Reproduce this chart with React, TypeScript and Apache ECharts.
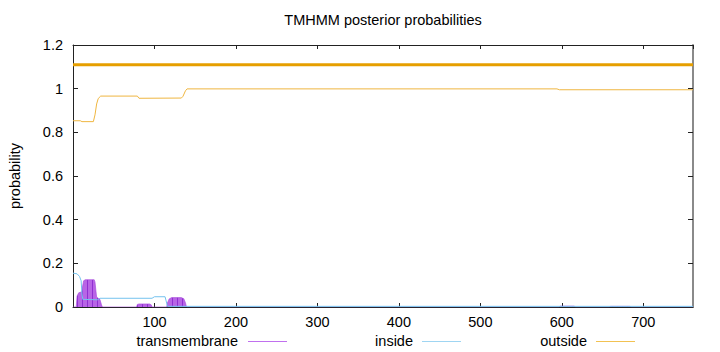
import React, { useEffect, useRef } from "react";
import * as echarts from "echarts";

const seqLength = 761;
const xTicks = [0, 100, 200, 300, 400, 500, 600, 700];
const yTicks = [0, 0.2, 0.4, 0.6, 0.8, 1, 1.2];
const legendNames = ["transmembrane", "inside", "outside"];

// [residue, probability]
const transmembrane: [number, number][] = [
  [0, 0], [4, 0], [5, 0.05], [7, 0.065], [11, 0.07], [12, 0.1], [13, 0.12], [15, 0.125],
  [26, 0.125], [27, 0.115], [28, 0.08], [29, 0.045], [33, 0.035], [35, 0.01], [36, 0],
  [78, 0], [79, 0.012], [81, 0.014], [94, 0.014], [96, 0.01], [97, 0],
  [115, 0], [116, 0.02], [118, 0.037], [121, 0.043], [133, 0.043], [136, 0.038], [138, 0.02], [139, 0.005], [140, 0],
  [596, 0], [598, 0.004], [615, 0.004], [617, 0], [658, 0], [660, 0.003], [683, 0.003], [685, 0], [761, 0],
];

const inside: [number, number][] = [
  [0, 0.155], [5, 0.152], [8, 0.14], [10, 0.12], [11, 0.06], [12, 0.035], [30, 0.033], [33, 0.04],
  [97, 0.04], [100, 0.047], [113, 0.047], [116, 0.003], [761, 0.003],
];

const outside: [number, number][] = [
  [0, 0.853], [9, 0.853], [11, 0.849], [25, 0.849], [27, 0.88], [29, 0.93], [31, 0.955], [34, 0.966],
  [79, 0.966], [81, 0.956], [133, 0.957], [135, 0.965], [138, 0.99], [140, 0.999],
  [594, 0.999], [597, 0.995], [761, 0.995],
];

const topology: [number, number][] = [[0, 1.11], [761, 1.11]];

const FONT = "'Liberation Sans', Arial, sans-serif";
const FS = 14.5;

export default function App() {
  const ref = useRef<HTMLDivElement>(null);
  useEffect(() => {
    if (!ref.current) return;
    document.body.style.margin = "0";
    const chart = echarts.init(ref.current, undefined, { renderer: "svg" });

    let tmFill: any = "#b052e2";
    try {
      const c = document.createElement("canvas");
      c.width = 5;
      c.height = 4;
      const ctx = c.getContext("2d");
      if (ctx) {
        ctx.fillStyle = "#b865e6";
        ctx.fillRect(0, 0, 5, 4);
        ctx.fillStyle = "#9030d2";
        ctx.fillRect(2, 0, 1, 4);
        tmFill = { image: c, repeat: "repeat" };
      }
    } catch (e) {}

    const axisColor = "#222";
    const xBase = {
      type: "value",
      min: 0,
      max: seqLength,
      interval: 100,
      splitLine: { show: false },
      axisTick: { inside: true, length: 4, lineStyle: { color: axisColor } },
    };
    const yBase = {
      type: "value",
      min: 0,
      max: 1.2,
      interval: 0.2,
      splitLine: { show: false },
      axisTick: { inside: true, length: 5, lineStyle: { color: axisColor } },
    };

    const legendY = 341;
    const legendTextX = [238, 413, 587];
    const legendLineX = [248, 422, 596];
    const legendColors = ["#c070ee", "#9fd5f2", "#f2c252"];
    const legendGraphics: any[] = [];
    legendNames.forEach((n, i) => {
      legendGraphics.push({
        type: "text",
        x: legendTextX[i],
        y: legendY,
        style: { text: n, align: "right", verticalAlign: "middle", font: `${FS}px ${FONT}`, fill: "#000" },
      });
      legendGraphics.push({
        type: "line",
        shape: { x1: legendLineX[i], y1: legendY + 0.5, x2: legendLineX[i] + 39, y2: legendY + 0.5 },
        style: { stroke: legendColors[i], lineWidth: 1 },
      });
    });

    chart.setOption({
      animation: false,
      textStyle: { fontFamily: FONT },
      grid: { left: 73, top: 45, width: 620, height: 262, containLabel: false },
      xAxis: [
        {
          ...xBase,
          position: "bottom",
          axisLine: { show: true, onZero: false, lineStyle: { color: axisColor, width: 1 } },
          axisLabel: {
            margin: 7,
            color: "#000",
            fontSize: FS,
            fontFamily: FONT,
            showMinLabel: false,
            showMaxLabel: false,
            formatter: (v: number) => (xTicks.includes(v) && v !== 0 ? String(v) : ""),
          },
        },
        {
          ...xBase,
          position: "top",
          axisLine: { show: true, onZero: false, lineStyle: { color: axisColor, width: 1 } },
          axisLabel: { show: false },
        },
      ],
      yAxis: [
        {
          ...yBase,
          position: "left",
          axisLine: { show: true, onZero: false, lineStyle: { color: axisColor, width: 1 } },
          axisLabel: {
            margin: 10,
            color: "#000",
            fontSize: FS,
            fontFamily: FONT,
            formatter: (v: number) => {
              const t = yTicks.find((k) => Math.abs(k - v) < 1e-6);
              return t === undefined ? "" : String(t);
            },
          },
        },
        {
          ...yBase,
          position: "right",
          axisLine: { show: true, onZero: false, lineStyle: { color: "#8a8a8a", width: 2 } },
          axisLabel: { show: false },
        },
      ],
      graphic: [
        {
          type: "text",
          x: 383,
          y: 20,
          style: {
            text: "TMHMM posterior probabilities",
            align: "center",
            verticalAlign: "middle",
            font: `${FS}px ${FONT}`,
            fill: "#000",
          },
        },
        {
          type: "text",
          x: 15,
          y: 176,
          rotation: Math.PI / 2,
          style: { text: "probability", align: "center", verticalAlign: "middle", font: `${FS}px ${FONT}`, fill: "#000" },
        },
        ...legendGraphics,
      ],
      series: [
        {
          name: "transmembrane",
          type: "line",
          data: transmembrane,
          showSymbol: false,
          lineStyle: { color: "#a445dc", width: 0.6 },
          areaStyle: { color: tmFill, opacity: 1 },
          z: 2,
        },
        {
          name: "inside",
          type: "line",
          data: inside,
          showSymbol: false,
          lineStyle: { color: "#74c2ee", width: 1 },
          z: 3,
        },
        {
          name: "outside",
          type: "line",
          data: outside,
          showSymbol: false,
          lineStyle: { color: "#efb640", width: 1 },
          z: 4,
        },
        {
          name: "topology",
          type: "line",
          data: topology,
          showSymbol: false,
          lineStyle: { color: "#e69f00", width: 3 },
          z: 5,
        },
      ],
    });
    return () => chart.dispose();
  }, []);
  return <div ref={ref} style={{ position: "absolute", left: 0, top: 0, width: 720, height: 352 }} />;
}
